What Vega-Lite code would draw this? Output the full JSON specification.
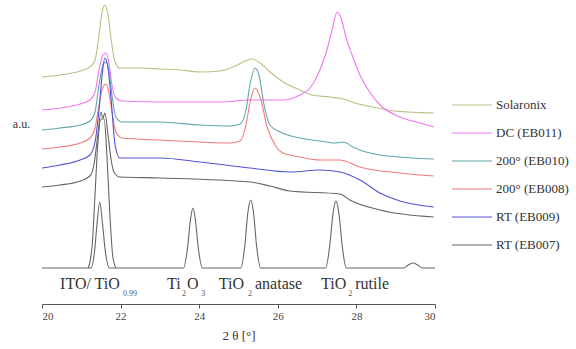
{
  "$schema": "https://vega.github.io/schema/vega-lite/v6.json",
  "autosize": {"type": "none"},
  "padding": {"left": 42, "top": 0, "right": 141, "bottom": 45},
  "width": 393,
  "height": 304,
  "config": {
    "view": {"stroke": null},
    "font": "Liberation Serif",
    "axis": {"labelFont": "Liberation Serif", "titleFont": "Liberation Serif"},
    "legend": {"labelFont": "Liberation Serif"},
    "text": {"font": "Liberation Serif"}
  },
  "datasets": {
    "scans": [
      {"sample": "Solaronix", "theta": 20.0, "counts": 227},
      {"sample": "Solaronix", "theta": 20.46, "counts": 229},
      {"sample": "Solaronix", "theta": 20.97, "counts": 233},
      {"sample": "Solaronix", "theta": 21.22, "counts": 237},
      {"sample": "Solaronix", "theta": 21.35, "counts": 244},
      {"sample": "Solaronix", "theta": 21.45, "counts": 269},
      {"sample": "Solaronix", "theta": 21.53, "counts": 292},
      {"sample": "Solaronix", "theta": 21.6, "counts": 299},
      {"sample": "Solaronix", "theta": 21.68, "counts": 289},
      {"sample": "Solaronix", "theta": 21.76, "counts": 264},
      {"sample": "Solaronix", "theta": 21.86, "counts": 242},
      {"sample": "Solaronix", "theta": 21.98, "counts": 236},
      {"sample": "Solaronix", "theta": 22.49, "counts": 236},
      {"sample": "Solaronix", "theta": 23.0, "counts": 235},
      {"sample": "Solaronix", "theta": 23.51, "counts": 234},
      {"sample": "Solaronix", "theta": 24.02, "counts": 232},
      {"sample": "Solaronix", "theta": 24.53, "counts": 233},
      {"sample": "Solaronix", "theta": 24.91, "counts": 238},
      {"sample": "Solaronix", "theta": 25.17, "counts": 243},
      {"sample": "Solaronix", "theta": 25.34, "counts": 245},
      {"sample": "Solaronix", "theta": 25.55, "counts": 241},
      {"sample": "Solaronix", "theta": 25.8, "counts": 232},
      {"sample": "Solaronix", "theta": 26.18, "counts": 221},
      {"sample": "Solaronix", "theta": 26.56, "counts": 214},
      {"sample": "Solaronix", "theta": 26.87, "counts": 209},
      {"sample": "Solaronix", "theta": 27.33, "counts": 207},
      {"sample": "Solaronix", "theta": 27.66, "counts": 205},
      {"sample": "Solaronix", "theta": 27.96, "counts": 201},
      {"sample": "Solaronix", "theta": 28.42, "counts": 197},
      {"sample": "Solaronix", "theta": 28.98, "counts": 193},
      {"sample": "Solaronix", "theta": 29.97, "counts": 191},

      {"sample": "DC (EB011)", "theta": 20.0, "counts": 194},
      {"sample": "DC (EB011)", "theta": 20.46, "counts": 196},
      {"sample": "DC (EB011)", "theta": 20.97, "counts": 200},
      {"sample": "DC (EB011)", "theta": 21.22, "counts": 204},
      {"sample": "DC (EB011)", "theta": 21.35, "counts": 212},
      {"sample": "DC (EB011)", "theta": 21.45, "counts": 234},
      {"sample": "DC (EB011)", "theta": 21.55, "counts": 249},
      {"sample": "DC (EB011)", "theta": 21.63, "counts": 251},
      {"sample": "DC (EB011)", "theta": 21.7, "counts": 242},
      {"sample": "DC (EB011)", "theta": 21.78, "counts": 219},
      {"sample": "DC (EB011)", "theta": 21.88, "counts": 206},
      {"sample": "DC (EB011)", "theta": 22.04, "counts": 203},
      {"sample": "DC (EB011)", "theta": 23.0, "counts": 202},
      {"sample": "DC (EB011)", "theta": 24.53, "counts": 202},
      {"sample": "DC (EB011)", "theta": 25.29, "counts": 204},
      {"sample": "DC (EB011)", "theta": 26.13, "counts": 204},
      {"sample": "DC (EB011)", "theta": 26.56, "counts": 209},
      {"sample": "DC (EB011)", "theta": 26.82, "counts": 216},
      {"sample": "DC (EB011)", "theta": 26.99, "counts": 227},
      {"sample": "DC (EB011)", "theta": 27.15, "counts": 242},
      {"sample": "DC (EB011)", "theta": 27.25, "counts": 254},
      {"sample": "DC (EB011)", "theta": 27.38, "counts": 274},
      {"sample": "DC (EB011)", "theta": 27.51, "counts": 292},
      {"sample": "DC (EB011)", "theta": 27.61, "counts": 286},
      {"sample": "DC (EB011)", "theta": 27.74, "counts": 266},
      {"sample": "DC (EB011)", "theta": 27.89, "counts": 249},
      {"sample": "DC (EB011)", "theta": 28.09, "counts": 229},
      {"sample": "DC (EB011)", "theta": 28.27, "counts": 216},
      {"sample": "DC (EB011)", "theta": 28.6, "counts": 199},
      {"sample": "DC (EB011)", "theta": 29.11, "counts": 187},
      {"sample": "DC (EB011)", "theta": 29.62, "counts": 181},
      {"sample": "DC (EB011)", "theta": 29.97, "counts": 177},

      {"sample": "200° (EB010)", "theta": 20.0, "counts": 174},
      {"sample": "200° (EB010)", "theta": 20.46, "counts": 176},
      {"sample": "200° (EB010)", "theta": 20.97, "counts": 179},
      {"sample": "200° (EB010)", "theta": 21.22, "counts": 183},
      {"sample": "200° (EB010)", "theta": 21.35, "counts": 192},
      {"sample": "200° (EB010)", "theta": 21.45, "counts": 219},
      {"sample": "200° (EB010)", "theta": 21.55, "counts": 239},
      {"sample": "200° (EB010)", "theta": 21.63, "counts": 242},
      {"sample": "200° (EB010)", "theta": 21.7, "counts": 234},
      {"sample": "200° (EB010)", "theta": 21.78, "counts": 209},
      {"sample": "200° (EB010)", "theta": 21.88, "counts": 187},
      {"sample": "200° (EB010)", "theta": 22.04, "counts": 182},
      {"sample": "200° (EB010)", "theta": 23.0, "counts": 182},
      {"sample": "200° (EB010)", "theta": 24.02, "counts": 179},
      {"sample": "200° (EB010)", "theta": 24.78, "counts": 178},
      {"sample": "200° (EB010)", "theta": 25.04, "counts": 180},
      {"sample": "200° (EB010)", "theta": 25.19, "counts": 194},
      {"sample": "200° (EB010)", "theta": 25.29, "counts": 219},
      {"sample": "200° (EB010)", "theta": 25.42, "counts": 236},
      {"sample": "200° (EB010)", "theta": 25.52, "counts": 229},
      {"sample": "200° (EB010)", "theta": 25.65, "counts": 199},
      {"sample": "200° (EB010)", "theta": 25.8, "counts": 179},
      {"sample": "200° (EB010)", "theta": 26.06, "counts": 172},
      {"sample": "200° (EB010)", "theta": 26.56, "counts": 166},
      {"sample": "200° (EB010)", "theta": 27.07, "counts": 163},
      {"sample": "200° (EB010)", "theta": 27.45, "counts": 161},
      {"sample": "200° (EB010)", "theta": 27.66, "counts": 162},
      {"sample": "200° (EB010)", "theta": 27.96, "counts": 156},
      {"sample": "200° (EB010)", "theta": 28.6, "counts": 149},
      {"sample": "200° (EB010)", "theta": 29.97, "counts": 145},

      {"sample": "200° (EB008)", "theta": 20.0, "counts": 155},
      {"sample": "200° (EB008)", "theta": 20.46, "counts": 157},
      {"sample": "200° (EB008)", "theta": 20.97, "counts": 161},
      {"sample": "200° (EB008)", "theta": 21.22, "counts": 166},
      {"sample": "200° (EB008)", "theta": 21.35, "counts": 176},
      {"sample": "200° (EB008)", "theta": 21.45, "counts": 199},
      {"sample": "200° (EB008)", "theta": 21.55, "counts": 217},
      {"sample": "200° (EB008)", "theta": 21.63, "counts": 220},
      {"sample": "200° (EB008)", "theta": 21.7, "counts": 212},
      {"sample": "200° (EB008)", "theta": 21.78, "counts": 192},
      {"sample": "200° (EB008)", "theta": 21.88, "counts": 172},
      {"sample": "200° (EB008)", "theta": 22.04, "counts": 166},
      {"sample": "200° (EB008)", "theta": 23.0, "counts": 164},
      {"sample": "200° (EB008)", "theta": 24.78, "counts": 161},
      {"sample": "200° (EB008)", "theta": 25.04, "counts": 163},
      {"sample": "200° (EB008)", "theta": 25.19, "counts": 179},
      {"sample": "200° (EB008)", "theta": 25.29, "counts": 201},
      {"sample": "200° (EB008)", "theta": 25.42, "counts": 216},
      {"sample": "200° (EB008)", "theta": 25.55, "counts": 207},
      {"sample": "200° (EB008)", "theta": 25.73, "counts": 177},
      {"sample": "200° (EB008)", "theta": 25.93, "counts": 159},
      {"sample": "200° (EB008)", "theta": 26.13, "counts": 151},
      {"sample": "200° (EB008)", "theta": 26.56, "counts": 147},
      {"sample": "200° (EB008)", "theta": 27.07, "counts": 144},
      {"sample": "200° (EB008)", "theta": 27.58, "counts": 144},
      {"sample": "200° (EB008)", "theta": 27.71, "counts": 143},
      {"sample": "200° (EB008)", "theta": 28.09, "counts": 137},
      {"sample": "200° (EB008)", "theta": 29.11, "counts": 131},
      {"sample": "200° (EB008)", "theta": 29.97, "counts": 128},

      {"sample": "RT (EB009)", "theta": 20.0, "counts": 136},
      {"sample": "RT (EB009)", "theta": 20.46, "counts": 139},
      {"sample": "RT (EB009)", "theta": 20.97, "counts": 144},
      {"sample": "RT (EB009)", "theta": 21.22, "counts": 149},
      {"sample": "RT (EB009)", "theta": 21.35, "counts": 162},
      {"sample": "RT (EB009)", "theta": 21.45, "counts": 194},
      {"sample": "RT (EB009)", "theta": 21.53, "counts": 229},
      {"sample": "RT (EB009)", "theta": 21.6, "counts": 246},
      {"sample": "RT (EB009)", "theta": 21.68, "counts": 236},
      {"sample": "RT (EB009)", "theta": 21.76, "counts": 204},
      {"sample": "RT (EB009)", "theta": 21.86, "counts": 159},
      {"sample": "RT (EB009)", "theta": 21.98, "counts": 146},
      {"sample": "RT (EB009)", "theta": 23.0, "counts": 146},
      {"sample": "RT (EB009)", "theta": 24.02, "counts": 142},
      {"sample": "RT (EB009)", "theta": 25.29, "counts": 136},
      {"sample": "RT (EB009)", "theta": 26.31, "counts": 132},
      {"sample": "RT (EB009)", "theta": 27.07, "counts": 134},
      {"sample": "RT (EB009)", "theta": 27.58, "counts": 132},
      {"sample": "RT (EB009)", "theta": 28.09, "counts": 124},
      {"sample": "RT (EB009)", "theta": 28.6, "counts": 111},
      {"sample": "RT (EB009)", "theta": 29.11, "counts": 103},
      {"sample": "RT (EB009)", "theta": 29.97, "counts": 97},

      {"sample": "RT (EB007)", "theta": 20.0, "counts": 117},
      {"sample": "RT (EB007)", "theta": 20.46, "counts": 119},
      {"sample": "RT (EB007)", "theta": 20.97, "counts": 123},
      {"sample": "RT (EB007)", "theta": 21.22, "counts": 128},
      {"sample": "RT (EB007)", "theta": 21.32, "counts": 139},
      {"sample": "RT (EB007)", "theta": 21.42, "counts": 169},
      {"sample": "RT (EB007)", "theta": 21.5, "counts": 192},
      {"sample": "RT (EB007)", "theta": 21.55, "counts": 186},
      {"sample": "RT (EB007)", "theta": 21.6, "counts": 191},
      {"sample": "RT (EB007)", "theta": 21.68, "counts": 169},
      {"sample": "RT (EB007)", "theta": 21.76, "counts": 144},
      {"sample": "RT (EB007)", "theta": 21.83, "counts": 132},
      {"sample": "RT (EB007)", "theta": 21.98, "counts": 127},
      {"sample": "RT (EB007)", "theta": 23.0, "counts": 126},
      {"sample": "RT (EB007)", "theta": 25.29, "counts": 122},
      {"sample": "RT (EB007)", "theta": 25.8, "counts": 118},
      {"sample": "RT (EB007)", "theta": 26.31, "counts": 113},
      {"sample": "RT (EB007)", "theta": 27.58, "counts": 110},
      {"sample": "RT (EB007)", "theta": 27.83, "counts": 104},
      {"sample": "RT (EB007)", "theta": 28.6, "counts": 94},
      {"sample": "RT (EB007)", "theta": 29.97, "counts": 87}
    ],
    "pattern": [
      {"part": "phases", "theta": 20.0, "counts": 36},
      {"part": "phases", "theta": 21.25, "counts": 36},
      {"part": "phases", "theta": 21.33, "counts": 50},
      {"part": "phases", "theta": 21.4, "counts": 80},
      {"part": "phases", "theta": 21.47, "counts": 102},
      {"part": "phases", "theta": 21.54, "counts": 80},
      {"part": "phases", "theta": 21.62, "counts": 50},
      {"part": "phases", "theta": 21.72, "counts": 36},
      {"part": "phases", "theta": 23.6, "counts": 36},
      {"part": "phases", "theta": 23.7, "counts": 55},
      {"part": "phases", "theta": 23.78, "counts": 85},
      {"part": "phases", "theta": 23.84, "counts": 96},
      {"part": "phases", "theta": 23.9, "counts": 85},
      {"part": "phases", "theta": 23.98, "counts": 55},
      {"part": "phases", "theta": 24.08, "counts": 36},
      {"part": "phases", "theta": 25.06, "counts": 36},
      {"part": "phases", "theta": 25.16, "counts": 58},
      {"part": "phases", "theta": 25.24, "counts": 92},
      {"part": "phases", "theta": 25.31, "counts": 104},
      {"part": "phases", "theta": 25.38, "counts": 92},
      {"part": "phases", "theta": 25.46, "counts": 58},
      {"part": "phases", "theta": 25.56, "counts": 36},
      {"part": "phases", "theta": 27.22, "counts": 36},
      {"part": "phases", "theta": 27.32, "counts": 58},
      {"part": "phases", "theta": 27.41, "counts": 92},
      {"part": "phases", "theta": 27.48, "counts": 103},
      {"part": "phases", "theta": 27.55, "counts": 92},
      {"part": "phases", "theta": 27.64, "counts": 58},
      {"part": "phases", "theta": 27.74, "counts": 36},
      {"part": "phases", "theta": 29.2, "counts": 36},
      {"part": "phases", "theta": 29.32, "counts": 39},
      {"part": "phases", "theta": 29.44, "counts": 41},
      {"part": "phases", "theta": 29.56, "counts": 39},
      {"part": "phases", "theta": 29.68, "counts": 36},
      {"part": "phases", "theta": 30.0, "counts": 36},
      {"part": "ITO", "theta": 21.18, "counts": 36},
      {"part": "ITO", "theta": 21.28, "counts": 60},
      {"part": "ITO", "theta": 21.35, "counts": 110},
      {"part": "ITO", "theta": 21.42, "counts": 160},
      {"part": "ITO", "theta": 21.5, "counts": 185},
      {"part": "ITO", "theta": 21.58, "counts": 185},
      {"part": "ITO", "theta": 21.65, "counts": 150},
      {"part": "ITO", "theta": 21.72, "counts": 95},
      {"part": "ITO", "theta": 21.8, "counts": 48},
      {"part": "ITO", "theta": 21.88, "counts": 36}
    ],
    "phaseLabels": [
      {"theta": 20.46, "text": "ITO/ TiO", "role": "main"},
      {"theta": 22.06, "text": "0.99", "role": "sub"},
      {"theta": 23.18, "text": "Ti", "role": "main"},
      {"theta": 23.56, "text": "2", "role": "sub"},
      {"theta": 23.69, "text": "O", "role": "main"},
      {"theta": 24.05, "text": "3", "role": "sub"},
      {"theta": 24.5, "text": "TiO", "role": "main"},
      {"theta": 25.24, "text": "2", "role": "sub"},
      {"theta": 25.42, "text": "anatase", "role": "main"},
      {"theta": 27.1, "text": "TiO", "role": "main"},
      {"theta": 27.79, "text": "2", "role": "sub"},
      {"theta": 27.97, "text": "rutile", "role": "main"}
    ]
  },
  "layer": [
    {
      "data": {"name": "pattern"},
      "mark": {"type": "line", "color": "#666666", "strokeWidth": 1.1, "interpolate": "monotone"},
      "encoding": {
        "x": {"field": "theta", "type": "quantitative"},
        "y": {"field": "counts", "type": "quantitative"},
        "detail": {"field": "part"}
      }
    },
    {
      "data": {"name": "scans"},
      "mark": {"type": "line", "strokeWidth": 1.1, "interpolate": "monotone"},
      "encoding": {
        "x": {
          "field": "theta",
          "type": "quantitative",
          "scale": {"domain": [20, 30], "nice": false, "zero": false},
          "axis": {
            "values": [20, 21, 22, 23, 24, 25, 26, 27, 28, 29, 30],
            "labelExpr": "datum.value % 2 == 0 ? datum.label : ''",
            "grid": false,
            "domainColor": "#555",
            "tickColor": "#555",
            "tickSize": 4,
            "labelFont": "Liberation Serif",
            "labelFontSize": 11,
            "labelColor": "#444",
            "title": "2 θ [°]",
            "titleFont": "Liberation Serif",
            "titleFontSize": 13,
            "titleFontWeight": "normal",
            "titleColor": "#333",
            "titlePadding": 8
          }
        },
        "y": {
          "field": "counts",
          "type": "quantitative",
          "scale": {"domain": [0, 304], "nice": false},
          "axis": {
            "domain": false,
            "ticks": false,
            "labels": false,
            "grid": false,
            "title": "a.u.",
            "titleAngle": 0,
            "titleX": -21,
            "titleY": 130,
            "titleAlign": "center",
            "titleFont": "Liberation Serif",
            "titleFontSize": 12,
            "titleFontWeight": "normal",
            "titleColor": "#333"
          }
        },
        "color": {
          "field": "sample",
          "type": "nominal",
          "scale": {
            "domain": ["Solaronix", "DC (EB011)", "200° (EB010)", "200° (EB008)", "RT (EB009)", "RT (EB007)"],
            "range": ["#bcbf84", "#f274f2", "#60a8a8", "#f27a7a", "#5252d6", "#646464"]
          },
          "legend": {
            "title": null,
            "orient": "none",
            "legendX": 409,
            "legendY": 84,
            "symbolType": "stroke",
            "symbolSize": 1600,
            "symbolStrokeWidth": 1.2,
            "labelFont": "Liberation Serif",
            "labelFontSize": 13,
            "labelColor": "#333",
            "labelOffset": 3,
            "rowPadding": -3.4
          }
        }
      }
    },
    {
      "data": {"name": "phaseLabels"},
      "transform": [{"filter": "datum.role == 'main'"}],
      "mark": {"type": "text", "align": "left", "baseline": "alphabetic", "font": "Liberation Serif", "fontSize": 16, "color": "#333"},
      "encoding": {
        "x": {"field": "theta", "type": "quantitative"},
        "y": {"datum": 15},
        "text": {"field": "text"}
      }
    },
    {
      "data": {"name": "phaseLabels"},
      "transform": [{"filter": "datum.role == 'sub'"}],
      "mark": {"type": "text", "align": "left", "baseline": "alphabetic", "font": "Liberation Serif", "fontSize": 8, "color": "#555"},
      "encoding": {
        "x": {"field": "theta", "type": "quantitative"},
        "y": {"datum": 8},
        "text": {"field": "text"}
      }
    }
  ]
}
